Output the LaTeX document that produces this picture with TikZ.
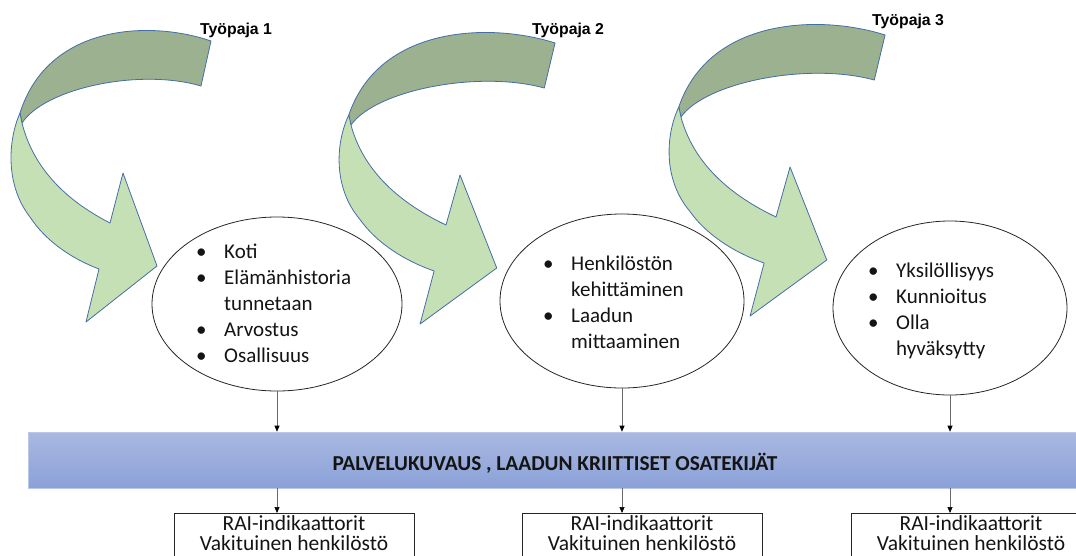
\documentclass[tikz,border=0pt]{standalone}
\usepackage{fontspec}
\setmainfont{Carlito}
\newfontfamily\labelfont{Liberation Sans}
\usetikzlibrary{arrows.meta,shapes.geometric}

\definecolor{bandDark}{RGB}{155,177,143}
\definecolor{bandLight}{RGB}{197,224,180}
\definecolor{bandEdge}{RGB}{68,110,165}
\definecolor{barTop}{RGB}{170,184,225}
\definecolor{barBottom}{RGB}{138,161,216}
\definecolor{barEdge}{RGB}{184,200,232}
\definecolor{connGray}{RGB}{105,105,105}
\definecolor{inkText}{RGB}{20,20,20}

\newcommand{\itembul}{\makebox[28pt][l]{\textbullet}}

\tikzset{
  % curved ribbon arrow: darker back band, lighter front band with head
  workarrow/.pic={
    \path[fill=bandDark, draw=bandEdge, line width=0.8pt, line join=round]
      (201,41) .. controls (140,20) and (38,24) .. (10,113)
      -- (12,123) .. controls (35,88) and (130,68) .. (191,86) -- cycle;
    \path[fill=bandLight, draw=bandEdge, line width=0.8pt, line join=round]
      (10,113) .. controls (-2,140) and (-5,185) .. (20,217)
      .. controls (35,240) and (60,258) .. (89,269)
      -- (76,322) -- (147,266) -- (113,173) -- (100,223)
      .. controls (65,205) and (25,175) .. (12,123) -- cycle;
  },
  theme/.style={ellipse, draw=black!85, line width=0.8pt, fill=white, inner sep=0pt},
  listtext/.style={inner sep=0pt, anchor=base west, text=inkText,
    font=\fontsize{21}{26}\selectfont},
  wslabel/.style={inner sep=0pt, anchor=base west, text=black,
    font=\labelfont\bfseries\fontsize{15.8}{18}\selectfont},
  bar/.style={rectangle, draw=barEdge, line width=0.6pt, top color=barTop,
    bottom color=barBottom, minimum width=1054pt, minimum height=56pt, inner sep=0pt},
  bartext/.style={inner sep=0pt, anchor=base, text=inkText,
    font=\bfseries\fontsize{21.3}{24}\selectfont},
  outbox/.style={rectangle, draw=black!85, line width=0.8pt, fill=white,
    minimum width=240pt, minimum height=70pt, inner sep=0pt, anchor=north west},
  boxtext/.style={inner sep=0pt, anchor=base, text=inkText,
    font=\fontsize{21.5}{19}\selectfont},
  conn/.style={draw=connGray, line width=0.7pt,
    -{Triangle[length=6pt,width=5pt,color=black]}},
}

\begin{document}
\begin{tikzpicture}[x=1pt,y=-1pt]
\useasboundingbox (0,0) rectangle (1076,555);
\clip (0,0) rectangle (1076,555);

% three workshop arrows
\pic at (10,0) {workarrow};
\pic[xscale=1.08] at (338,2) {workarrow};
\pic[xscale=1.08] at (668,-6) {workarrow};

% workshop titles
\node[wslabel] (w1) at (200,34) {Työpaja 1};
\node[wslabel] (w2) at (532,34) {Työpaja 2};
\node[wslabel] (w3) at (872,25) {Työpaja 3};

% theme ellipses
\node[theme, minimum width=250pt, minimum height=174pt] (e1) at (277,304) {};
\node[theme, minimum width=244pt, minimum height=174pt] (e2) at (622,301) {};
\node[theme, minimum width=234pt, minimum height=174pt] (e3) at (950,308) {};

\node[listtext] (t1) at (196,258) {\begin{tabular}[t]{@{}l@{}l@{}}
  \itembul & Koti\\
  \itembul & Elämänhistoria\\
           & tunnetaan\\
  \itembul & Arvostus\\
  \itembul & Osallisuus
\end{tabular}};
\node[listtext] (t2) at (543,270) {\begin{tabular}[t]{@{}l@{}l@{}}
  \itembul & Henkilöstön\\
           & kehittäminen\\
  \itembul & Laadun\\
           & mittaaminen
\end{tabular}};
\node[listtext] (t3) at (868,277) {\begin{tabular}[t]{@{}l@{}l@{}}
  \itembul & Yksilöllisyys\\
  \itembul & Kunnioitus\\
  \itembul & Olla\\
           & hyväksytty
\end{tabular}};

% common bar
\node[bar] (bar) at (555,460) {};
\node[bartext] (bt) at (555,470) {PALVELUKUVAUS , LAADUN KRIITTISET OSATEKIJÄT};

% indicator boxes
\node[outbox] (b1) at (174,513) {};
\node[outbox] (b2) at (522,513) {};
\node[outbox] (b3) at (851,513) {};
\node[boxtext] (bt1) at (294,530) {\begin{tabular}[t]{@{}c@{}}RAI-indikaattorit\\Vakituinen henkilöstö\end{tabular}};
\node[boxtext] (bt2) at (642,530) {\begin{tabular}[t]{@{}c@{}}RAI-indikaattorit\\Vakituinen henkilöstö\end{tabular}};
\node[boxtext] (bt3) at (971,530) {\begin{tabular}[t]{@{}c@{}}RAI-indikaattorit\\Vakituinen henkilöstö\end{tabular}};

% connectors
\foreach \e/\b in {e1/b1, e2/b2, e3/b3} {
  \draw[conn] (\e.south) -- (\e.south |- bar.north);
  \draw[conn] (\e.south |- bar.south) -- (\e.south |- \b.north);
}
\end{tikzpicture}
\end{document}
